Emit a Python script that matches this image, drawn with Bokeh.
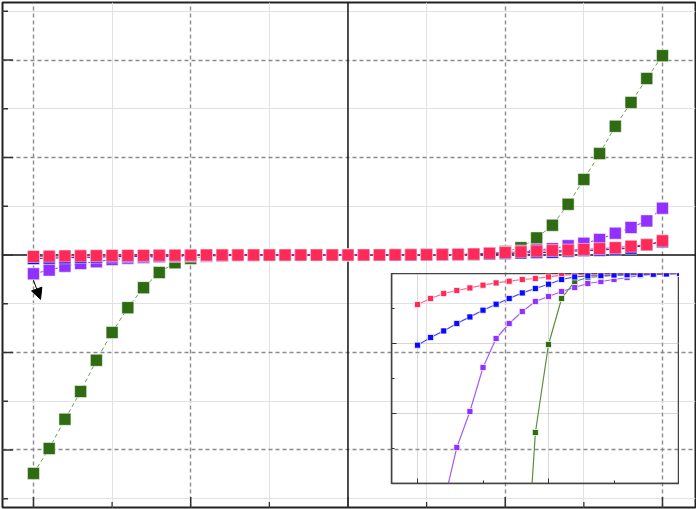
import math
from bokeh.plotting import figure
from bokeh.models import (Range1d, SingleIntervalTicker, FixedTicker, Span, Arrow,
                          NormalHead, ColumnDataSource, CustomJSTickFormatter)
from bokeh.embed import file_html
from bokeh.resources import INLINE

# ---------------- data ----------------
x_vals = [-4.0, -3.8, -3.6, -3.4, -3.2, -3.0, -2.8, -2.6, -2.4, -2.2, -2.0,
          -1.8, -1.6, -1.4, -1.2, -1.0, -0.8, -0.6, -0.4, -0.2, 0.0,
          0.2, 0.4, 0.6, 0.8, 1.0, 1.2, 1.4, 1.6, 1.8, 2.0,
          2.2, 2.4, 2.6, 2.8, 3.0, 3.2, 3.4, 3.6, 3.8, 4.0]

green = [-4.48, -3.97, -3.37, -2.80, -2.16, -1.59, -1.08, -0.67, -0.36, -0.159, -0.071,
         -0.025, -0.008, -0.004, -0.003, -0.002, -0.0015, -0.001, -0.0005, 0.0, 0.0,
         0.0, 0.0, 0.0, 0.001, 0.002, 0.003, 0.006, 0.012, 0.03, 0.07,
         0.15, 0.35, 0.61, 1.04, 1.55, 2.08, 2.64, 3.13, 3.62, 4.09]

purple = [-0.386, -0.31, -0.23, -0.174, -0.138, -0.094, -0.065, -0.050, -0.038, -0.028, -0.023,
          -0.018, -0.014, -0.010, -0.008, -0.006, -0.004, -0.002, -0.001, -0.0005, 0.0,
          0.0005, 0.001, 0.002, 0.004, 0.006, 0.009, 0.013, 0.02, 0.03, 0.05,
          0.08, 0.107, 0.13, 0.19, 0.24, 0.32, 0.447, 0.564, 0.70, 0.96]

blue = [-0.0717, -0.064, -0.0574, -0.050, -0.0434, -0.0367, -0.0307, -0.025, -0.0194, -0.015, -0.0107,
        -0.006, -0.0034, -0.0024, -0.002, -0.0015, -0.0012, -0.001, -0.0008, -0.0005, 0.0,
        0.0, 0.0, 0.001, 0.002, 0.003, 0.005, 0.008, 0.012, 0.02, 0.03,
        0.04, 0.05, 0.055, 0.075, 0.09, 0.10, 0.12, 0.14, 0.21, 0.27]

red = [-0.031, -0.025, -0.020, -0.017, -0.0144, -0.0117, -0.0094, -0.0077, -0.006, -0.005, -0.0034,
       -0.0017, -0.0012, -0.0009, -0.0006, -0.0004, -0.0003, -0.0002, -0.0001, 0.0, 0.0,
       0.001, 0.002, 0.003, 0.004, 0.006, 0.008, 0.012, 0.018, 0.035, 0.05,
       0.065, 0.08, 0.09, 0.10, 0.115, 0.13, 0.15, 0.18, 0.21, 0.29]

# tick values (no labels are shown)
main_major_ticks = [-4, -2, 0, 2, 4]
main_minor_ticks = [-5, -3, -1, 1, 3, 5]
grid_major_ticks = [-4, -2, 2, 4]

arrow_start = (-4.0, -0.52)
arrow_end = (-3.91, -0.91)

# views
main_x_range = (-4.394, 4.42)
main_y_range = (-5.18, 5.18)
inset_x_range = (-4.397, 0.0)
inset_y_range = (-0.21, 0.0)

C_GREEN = "#2e6b12"
C_GREEN_L = "#6f9f4f"
C_PURPLE = "#9130ff"
C_BLUE = "#0a0aff"
C_RED = "#ff2a58"
C_TICK = "#333333"

src = ColumnDataSource(dict(x=x_vals, g=green, p=purple, b=blue, r=red))
blank = CustomJSTickFormatter(code="return ''")

# ---------------- main figure ----------------
p = figure(width=696, height=509, x_range=Range1d(*main_x_range), y_range=Range1d(*main_y_range),
           output_backend="svg", toolbar_location=None,
           x_axis_location=None, y_axis_location=None,
           min_border_left=2, min_border_right=1, min_border_top=2, min_border_bottom=2,
           background_fill_color="white", border_fill_color="white",
           outline_line_color="#222222", outline_line_width=2)

for g in (p.xgrid[0], p.ygrid[0]):
    g.ticker = FixedTicker(ticks=grid_major_ticks, minor_ticks=main_minor_ticks)
    g.grid_line_color = "#8a8a8a"
    g.grid_line_dash = "4 3"
    g.grid_line_width = 1.4
    g.minor_grid_line_color = "#e2e2e2"
    g.minor_grid_line_width = 1

p.add_layout(Span(location=0, dimension="width", line_color="#111111", line_width=1.5, level="underlay"))
p.add_layout(Span(location=0, dimension="height", line_color="#111111", line_width=1.5, level="underlay"))

# inward tick marks on the left and bottom edges (outer half is clipped by the frame)
p.scatter(main_major_ticks, [main_y_range[0]] * len(main_major_ticks), marker="dash", size=21,
          angle=math.pi / 2, line_color=C_TICK, line_width=1.5)
p.scatter(main_minor_ticks, [main_y_range[0]] * len(main_minor_ticks), marker="dash", size=11,
          angle=math.pi / 2, line_color=C_TICK, line_width=1.3)
p.scatter([main_x_range[0]] * len(main_major_ticks), main_major_ticks, marker="dash", size=21,
          line_color=C_TICK, line_width=1.5)
p.scatter([main_x_range[0]] * len(main_minor_ticks), main_minor_ticks, marker="dash", size=11,
          line_color=C_TICK, line_width=1.3)

p.line("x", "g", source=src, line_color=C_GREEN_L, line_width=1, line_dash="4 3")
p.scatter("x", "g", source=src, marker="square", size=12, fill_color=C_GREEN,
          line_color="white", line_alpha=0.5, line_width=1)
p.line("x", "p", source=src, line_color=C_PURPLE, line_width=1, line_dash="4 3")
p.scatter("x", "p", source=src, marker="square", size=12, fill_color=C_PURPLE,
          line_color="white", line_alpha=0.5, line_width=1)
p.line("x", "b", source=src, line_color=C_BLUE, line_width=1)
p.scatter("x", "b", source=src, marker="square", size=12, fill_color=C_BLUE,
          line_color="white", line_alpha=0.5, line_width=1)
p.line("x", "r", source=src, line_color=C_RED, line_width=1)
p.scatter("x", "r", source=src, marker="square", size=12, fill_color=C_RED,
          line_color="white", line_alpha=0.5, line_width=1)

p.add_layout(Arrow(end=NormalHead(size=11, fill_color="black", line_color="black"),
                   x_start=arrow_start[0], y_start=arrow_start[1],
                   x_end=arrow_end[0], y_end=arrow_end[1],
                   line_color="black", line_width=1))

# ---------------- inset (overlaid on the main plot) ----------------
ins = figure(width=298, height=220, x_range=Range1d(*inset_x_range), y_range=Range1d(*inset_y_range),
             output_backend="svg", toolbar_location=None,
             min_border_left=10, min_border_bottom=10, min_border_top=0, min_border_right=0,
             background_fill_color=None, border_fill_color=None,
             outline_line_color="#444444", outline_line_width=1.5)
ins.styles = {"position": "absolute", "left": "381px", "top": "273px"}

ins.xaxis[0].ticker = SingleIntervalTicker(interval=2, num_minor_ticks=2)
ins.yaxis[0].ticker = SingleIntervalTicker(interval=0.07, num_minor_ticks=2)
ins.xaxis[0].fixed_location = inset_y_range[0]
ins.yaxis[0].fixed_location = inset_x_range[0]
for ax in (ins.xaxis[0], ins.yaxis[0]):
    ax.formatter = blank
    ax.major_label_standoff = 0
    ax.major_tick_in = 5
    ax.major_tick_out = 0
    ax.minor_tick_in = 3
    ax.minor_tick_out = 0
    ax.axis_line_color = "#444444"
    ax.axis_line_width = 1.5
    ax.major_tick_line_color = C_TICK
    ax.minor_tick_line_color = C_TICK
for g in (ins.xgrid[0], ins.ygrid[0]):
    g.grid_line_color = "#b0b0b0"
    g.grid_line_dash = "1 1"
    g.grid_line_width = 1

for col, c in (("p", C_PURPLE), ("g", C_GREEN), ("r", C_RED), ("b", C_BLUE)):
    lc = {"p": "#a45cff", "g": "#5a8f3a", "r": "#ff6a88", "b": "#4a4aff"}[col]
    ins.line("x", col, source=src, line_color=lc, line_width=1.2)
    ins.scatter("x", col, source=src, marker="square", size=6, fill_color=c,
                line_color="white", line_alpha=0.7, line_width=1)

open("out.html", "w").write(file_html([p, ins], INLINE))
